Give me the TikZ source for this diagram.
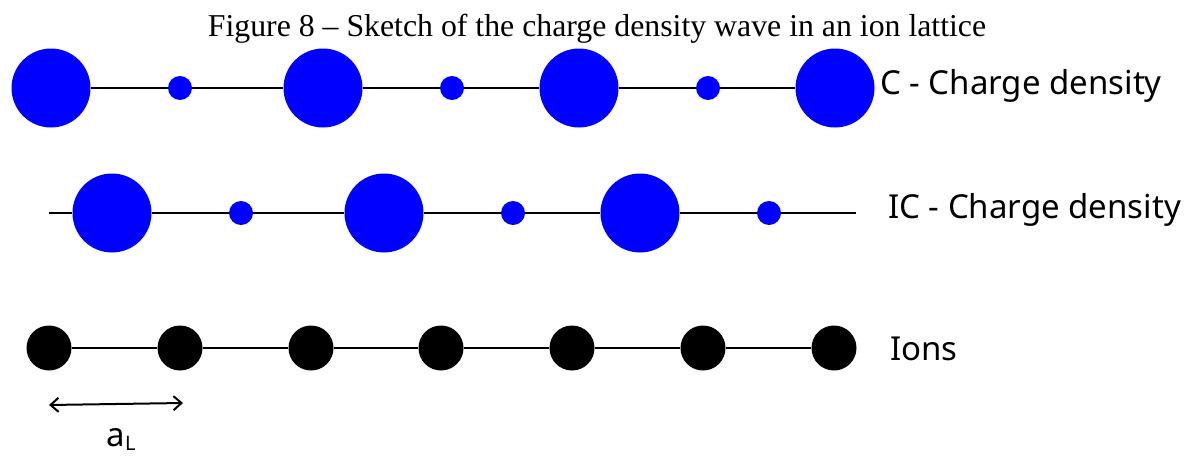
\documentclass[tikz,border=0pt]{standalone}
\usepackage{fontspec}
\setmainfont{Liberation Serif}
\newfontfamily\labelfont{Noto Sans}
\usetikzlibrary{arrows.meta}

\begin{document}
\begin{tikzpicture}[
  x = 1pt, y = -1pt,
  bigq/.style     = {circle, fill=blue, minimum size=79pt, inner sep=0pt},
  smallq/.style   = {circle, fill=blue, minimum size=24pt, inner sep=0pt},
  ion/.style      = {circle, fill=black, minimum size=45pt, inner sep=0pt},
  chain/.style    = {line width=2.2pt, black},
  rowlabel/.style = {font=\labelfont\fontsize{33}{40}\selectfont, anchor=base west, inner sep=0pt},
  arr/.style      = {{Straight Barb[length=8pt,width=14pt]}-{Straight Barb[length=8pt,width=14pt]},
                     line width=2pt, black}
]
\useasboundingbox (0,0) rectangle (1193,455);

% ── Title ────────────────────────────────────────────────────────────────────
\node[anchor=base, font=\fontsize{31.8}{36}\selectfont] (title) at (597,36)
      {Figure 8 – Sketch of the charge density wave in an ion lattice};

% ── Row 1: commensurate charge density ───────────────────────────────────────
\node[bigq]   (cb1) at (51,88)  {};
\node[smallq] (cs1) at (180,88) {};
\node[bigq]   (cb2) at (323,88) {};
\node[smallq] (cs2) at (452,88) {};
\node[bigq]   (cb3) at (579,88) {};
\node[smallq] (cs3) at (708,88) {};
\node[bigq]   (cb4) at (835,88) {};

% ── Row 2: incommensurate charge density ─────────────────────────────────────
\coordinate (icL) at (49,213);
\coordinate (icR) at (856,213);
\node[bigq]   (ib1) at (112,213) {};
\node[smallq] (is1) at (241,213) {};
\node[bigq]   (ib2) at (384,213) {};
\node[smallq] (is2) at (513,213) {};
\node[bigq]   (ib3) at (640,213) {};
\node[smallq] (is3) at (769,213) {};

% ── Row 3: ions ──────────────────────────────────────────────────────────────
\node[ion] (ion1) at (49,348)  {};
\node[ion] (ion2) at (180,348) {};
\node[ion] (ion3) at (311,348) {};
\node[ion] (ion4) at (441,348) {};
\node[ion] (ion5) at (572,348) {};
\node[ion] (ion6) at (703,348) {};
\node[ion] (ion7) at (834,348) {};

% ── Chains ───────────────────────────────────────────────────────────────────
\draw[chain] (cb1) -- (cs1) -- (cb2) -- (cs2) -- (cb3) -- (cs3) -- (cb4);
\draw[chain] (icL) -- (ib1) -- (is1) -- (ib2) -- (is2) -- (ib3) -- (is3) -- (icR);
\draw[chain] (ion1) -- (ion2) -- (ion3) -- (ion4) -- (ion5) -- (ion6) -- (ion7);

% ── Labels ───────────────────────────────────────────────────────────────────
\node[rowlabel] (clabel)   at (880,94)  {C - Charge density};
\node[rowlabel] (iclabel)  at (888,218) {IC - Charge density};
\node[rowlabel] (ionlabel) at (890,360) {Ions};

% ── Lattice constant ─────────────────────────────────────────────────────────
\coordinate (aL) at (49,405);
\coordinate (aR) at (183,403);
\draw[arr] (aL) -- (aR);
\node[anchor=base, inner sep=0pt, font=\labelfont\fontsize{33}{40}\selectfont] (alabel) at (121,446)
      {a\raisebox{-4pt}{\fontsize{20}{24}\selectfont L}};
\end{tikzpicture}
\end{document}
